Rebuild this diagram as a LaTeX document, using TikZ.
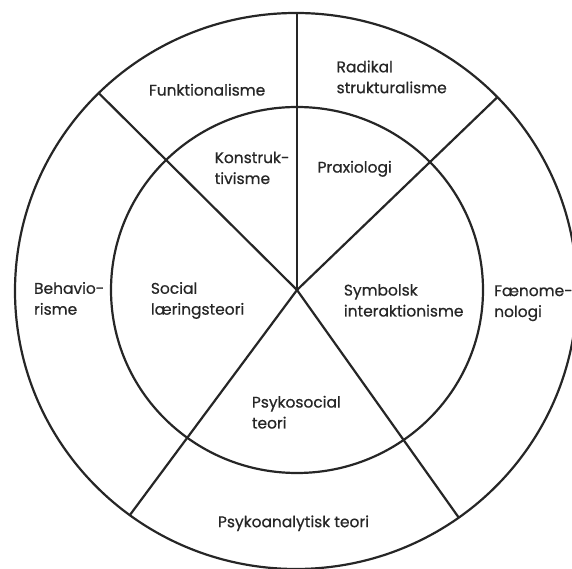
\documentclass[tikz,border=0pt]{standalone}
\usepackage{fontspec}
\setmainfont{Poppins}[FakeBold=0.6]
\usetikzlibrary{calc}

\tikzset{
  ring/.style={line width=2.2bp, draw=black!85},
  lbl/.style={font=\fontsize{15.5}{21}\selectfont, text=black!85, anchor=base west, align=left, inner sep=0pt}
}

\begin{document}
\begin{tikzpicture}[x=1bp, y=1bp]
\useasboundingbox (0,0) rectangle (572,569);
\coordinate (hub) at (297,279);
\coordinate (oc) at (296,278);
% rings
\draw[ring] (oc) ellipse [x radius=281, y radius=278];
\draw[ring] (hub) ellipse [x radius=186, y radius=183];
% spokes
\begin{scope}
\clip (oc) ellipse [x radius=281, y radius=278];
\foreach \a in {90, 43.9, 135.2, 233.4, 305.4}
  \draw[ring] (hub) -- ++(\a:320);
\end{scope}
% outer ring
\node[lbl] (funk) at (148.8,473.4) {Funktionalisme};
\node[lbl] (radikal) at (336.4,475.8) {Radikal\\strukturalisme};
\node[lbl] (behavio) at (33.9,254.3) {Behavio-\\risme};
\node[lbl] (faenome) at (494,252) {Fænome-\\nologi};
\node[lbl] (psykoan) at (217.8,41.8) {Psykoanalytisk teori};
% inner ring
\node[lbl] (konstruk) at (214.5,385) {Konstruk-\\tivisme};
\node[lbl] (praxio) at (317.4,396.4) {Praxiologi};
\node[lbl] (social) at (150.7,254.3) {Social\\læringsteori};
\node[lbl] (symbol) at (343.7,252.5) {Symbolsk\\interaktionisme};
\node[lbl] (psykos) at (251.7,140.5) {Psykosocial\\teori};
\end{tikzpicture}
\end{document}
